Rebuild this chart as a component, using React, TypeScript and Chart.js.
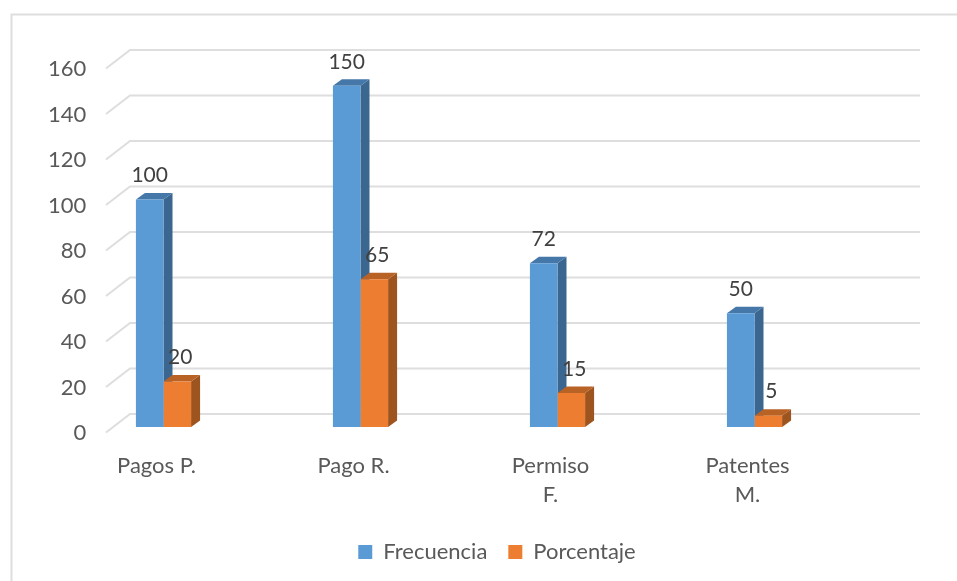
import React, { useEffect, useRef } from "react";
import { Chart, registerables } from "chart.js";

Chart.register(...registerables);

const categories: (string | string[])[] = ["Pagos P.", "Pago R.", ["Permiso", "F."], ["Patentes", "M."]];
const frecuencia = [100, 150, 72, 50];
const porcentaje = [20, 65, 15, 5];
const FONT = "Lato, Carlito, Calibri, sans-serif";

const DX = 9;
const DY = 6.5;

const shades = [
  { side: "#3A6690", top: "#4577A8" },
  { side: "#9E541F", top: "#B96226" },
];

const framePlugin = {
  id: "frame3d",
  beforeDraw(chart: any) {
    const { ctx, width, height } = chart;
    ctx.save();
    ctx.fillStyle = "#fff";
    ctx.fillRect(0, 0, width, height);
    ctx.strokeStyle = "#DEDEDE";
    ctx.lineWidth = 2;
    ctx.beginPath();
    ctx.moveTo(11.5, height + 5);
    ctx.lineTo(11.5, 14.5);
    ctx.lineTo(width + 5, 14.5);
    ctx.stroke();
    ctx.restore();
  },
  beforeDatasetsDraw(chart: any) {
    const { ctx } = chart;
    const y = chart.scales.y;
    ctx.save();
    ctx.strokeStyle = "#DEDEDE";
    ctx.lineWidth = 2;
    y.ticks.forEach((t: any) => {
      const py = y.getPixelForValue(t.value);
      ctx.beginPath();
      ctx.moveTo(106, py + 5.5);
      ctx.lineTo(130, py - 13);
      ctx.lineTo(920, py - 13);
      ctx.stroke();
    });
    chart.data.datasets.forEach((_: any, i: number) => {
      chart.getDatasetMeta(i).data.forEach((bar: any) => {
        const w = bar.width;
        const l = bar.x - w / 2;
        const r = bar.x + w / 2;
        const t = bar.y;
        const b = bar.base;
        ctx.fillStyle = shades[i].side;
        ctx.beginPath();
        ctx.moveTo(r, t);
        ctx.lineTo(r + DX, t - DY);
        ctx.lineTo(r + DX, b - DY);
        ctx.lineTo(r, b);
        ctx.closePath();
        ctx.fill();
        ctx.fillStyle = shades[i].top;
        ctx.beginPath();
        ctx.moveTo(l, t);
        ctx.lineTo(l + DX, t - DY);
        ctx.lineTo(r + DX, t - DY);
        ctx.lineTo(r, t);
        ctx.closePath();
        ctx.fill();
      });
    });
    ctx.restore();
  },
  afterDatasetsDraw(chart: any) {
    const { ctx } = chart;
    ctx.save();
    ctx.font = `21px ${FONT}`;
    ctx.fillStyle = "#404040";
    ctx.textAlign = "center";
    ctx.textBaseline = "middle";
    chart.data.datasets.forEach((ds: any, i: number) => {
      chart.getDatasetMeta(i).data.forEach((bar: any, j: number) => {
        ctx.fillText(String(ds.data[j]), bar.x + i * 3, bar.y - 24);
      });
    });
    ctx.restore();
  },
};

export default function App() {
  const ref = useRef<HTMLCanvasElement>(null);
  useEffect(() => {
    const chart = new Chart(ref.current!, {
      type: "bar",
      data: {
        labels: categories as any,
        datasets: [
          { label: "Frecuencia", data: frecuencia, backgroundColor: "#5B9BD5" },
          { label: "Porcentaje", data: porcentaje, backgroundColor: "#ED7D31" },
        ],
      },
      options: {
        animation: false,
        responsive: false,
        layout: { padding: { left: 42, right: 5, top: 63, bottom: 8 } },
        datasets: { bar: { categoryPercentage: 0.28, barPercentage: 1 } },
        plugins: {
          tooltip: { enabled: false },
          legend: {
            position: "bottom",
            labels: {
              boxWidth: 14,
              boxHeight: 14,
              padding: 21,
              color: "#595959",
              font: { family: FONT, size: 22 },
            },
          },
        },
        scales: {
          x: {
            grid: { display: false },
            border: { display: false },
            afterFit(s: any) { s.height = 93; },
            ticks: {
              color: "#595959",
              labelOffset: -7,
              padding: 16,
              maxRotation: 0,
              autoSkip: false,
              font: { family: FONT, size: 22, lineHeight: 1.32 },
            },
          },
          y: {
            min: 0,
            max: 160,
            grid: { display: false },
            border: { display: false },
            afterFit(s: any) { s.width = 23; },
            ticks: {
              stepSize: 20,
              color: "#595959",
              mirror: true,
              crossAlign: "far",
              padding: -17,
              labelOffset: 6,
              font: { family: FONT, size: 22 },
            },
          },
          spacer: {
            position: "right",
            display: true,
            grid: { display: false },
            border: { display: false },
            ticks: { display: false },
            afterFit(s: any) { s.width = 99; },
          },
        },
      } as any,
      plugins: [framePlugin],
    });
    return () => chart.destroy();
  }, []);
  return (
    <canvas
      ref={ref}
      width={957}
      height={581}
      style={{ position: "fixed", left: 0, top: 0, width: 957, height: 581, display: "block", filter: "blur(0.5px)" }}
    />
  );
}
